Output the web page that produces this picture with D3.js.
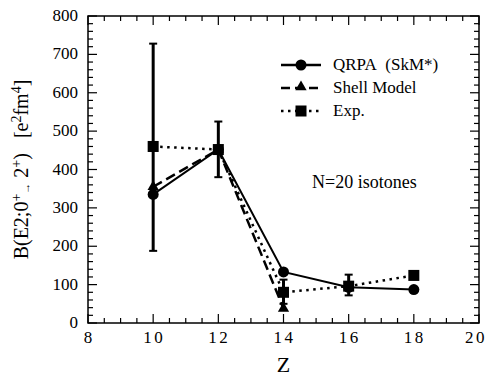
<!DOCTYPE html>
<html>
<head>
<meta charset="utf-8">
<script src="https://d3js.org/d3.v7.min.js"></script>
<style>
  body { margin: 0; background: #fff; }
</style>
</head>
<body>
<div id="chart"></div>
<script>
// data
const qrpaZ = [10, 12, 14, 16, 18];
const qrpaB = [335, 452, 133, 93, 87];

const shellZ = [10, 12, 14];
const shellB = [355, 452, 38];

const expZ = [10, 12, 14, 16, 18];
const expB = [460, 452, 80, 96, 124];
const expLo = [188, 380, 50, 72, null];
const expHi = [728, 525, 113, 126, null];

const xTicks = [8, 10, 12, 14, 16, 18, 20];
const yTicks = [0, 100, 200, 300, 400, 500, 600, 700, 800];

const w = 488, h = 380;
const m = {left: 88, right: 9, top: 16, bottom: 57};

const svg = d3.select("#chart").append("svg")
  .attr("width", w).attr("height", h)
  .attr("font-family", "'Liberation Serif', 'Times New Roman', Times, serif");

const x = d3.scaleLinear().domain([8, 20]).range([m.left, w - m.right]);
const y = d3.scaleLinear().domain([0, 800]).range([h - m.bottom, m.top]);

// ticks (inward, all four sides)
const minorX = d3.range(8, 20.01, 0.5);
const minorY = d3.range(0, 800.1, 20);
const tg = svg.append("g").attr("stroke", "#000").attr("stroke-width", 1.2);
minorX.forEach(v => {
  const len = (v % 2 === 0) ? 9 : 5;
  tg.append("line").attr("x1", x(v)).attr("x2", x(v)).attr("y1", y(0)).attr("y2", y(0) - len);
  tg.append("line").attr("x1", x(v)).attr("x2", x(v)).attr("y1", y(800)).attr("y2", y(800) + len);
});
minorY.forEach(v => {
  const len = (v % 100 === 0) ? 9 : 5;
  tg.append("line").attr("y1", y(v)).attr("y2", y(v)).attr("x1", x(8)).attr("x2", x(8) + len);
  tg.append("line").attr("y1", y(v)).attr("y2", y(v)).attr("x1", x(20)).attr("x2", x(20) - len);
});

svg.append("rect")
  .attr("x", x(8)).attr("y", y(800))
  .attr("width", x(20) - x(8)).attr("height", y(0) - y(800))
  .attr("fill", "none").attr("stroke", "#000").attr("stroke-width", 1.5);

// tick labels
svg.selectAll(".xl").data(xTicks).enter().append("text")
  .attr("x", d => x(d) + (d === 20 ? -3 : d >= 10 ? 1 : 0))
  .attr("y", y(0) + 20)
  .attr("text-anchor", "middle")
  .attr("font-size", 17)
  .attr("letter-spacing", d => d >= 10 ? 2.5 : 0)
  .text(d => d);

svg.selectAll(".yl").data(yTicks).enter().append("text")
  .attr("x", 78)
  .attr("y", d => y(d) + 5)
  .attr("text-anchor", "end")
  .attr("font-size", 17)
  .text(d => d);

// axis titles
svg.append("text")
  .attr("x", x(14)).attr("y", 372)
  .attr("text-anchor", "middle").attr("font-size", 22)
  .text("Z");

const yl = svg.append("text")
  .attr("transform", "translate(28," + y(400) + ") rotate(-90)")
  .attr("text-anchor", "middle").attr("font-size", 20);
yl.append("tspan").text("B(E2;0");
yl.append("tspan").attr("dy", -7).attr("font-size", 14).text("+");
yl.append("tspan").attr("dy", 9).attr("font-size", 11).text("\u2192");
yl.append("tspan").attr("dy", -2).text(" 2");
yl.append("tspan").attr("dy", -7).attr("font-size", 14).text("+");
yl.append("tspan").attr("dy", 7).text(")\u00a0\u00a0 [e");
yl.append("tspan").attr("dy", -7).attr("font-size", 14).text("2");
yl.append("tspan").attr("dy", 7).text("fm");
yl.append("tspan").attr("dy", -7).attr("font-size", 14).text("4");
yl.append("tspan").attr("dy", 7).text("]");

// error bars
const eb = svg.append("g").attr("stroke", "#000").attr("stroke-width", 3);
expZ.forEach((z, i) => {
  if (expLo[i] == null) return;
  eb.append("line").attr("x1", x(z)).attr("x2", x(z)).attr("y1", y(expLo[i])).attr("y2", y(expHi[i]));
  [expLo[i], expHi[i]].forEach(v => {
    eb.append("line").attr("x1", x(z) - 4).attr("x2", x(z) + 4).attr("y1", y(v)).attr("y2", y(v)).attr("stroke-width", 2);
  });
});

const line = d3.line().x(d => x(d[0])).y(d => y(d[1]));

svg.append("path").datum(expZ.map((z, i) => [z, expB[i]]))
  .attr("d", line).attr("fill", "none").attr("stroke", "#000")
  .attr("stroke-width", 2.5).attr("stroke-dasharray", "2.5,4.5");
svg.append("path").datum(shellZ.map((z, i) => [z, shellB[i]]))
  .attr("d", line).attr("fill", "none").attr("stroke", "#000")
  .attr("stroke-width", 2.5).attr("stroke-dasharray", "10,5");
svg.append("path").datum(qrpaZ.map((z, i) => [z, qrpaB[i]]))
  .attr("d", line).attr("fill", "none").attr("stroke", "#000")
  .attr("stroke-width", 2);

const tri = d3.symbol().type(d3.symbolTriangle).size(55);
svg.selectAll(".tri").data(shellZ).enter().append("path")
  .attr("d", tri)
  .attr("transform", (d, i) => "translate(" + x(d) + "," + y(shellB[i]) + ")");
svg.selectAll(".sq").data(expZ).enter().append("rect")
  .attr("x", d => x(d) - 5.5)
  .attr("y", (d, i) => y(expB[i]) - 5.5)
  .attr("width", 11).attr("height", 11);
svg.selectAll(".ci").data(qrpaZ).enter().append("circle")
  .attr("cx", d => x(d))
  .attr("cy", (d, i) => y(qrpaB[i]))
  .attr("r", 5.5);

// legend
const legend = [
  {label: "QRPA\u00a0 (SkM*)", dash: null, mark: "circle"},
  {label: "Shell Model", dash: "9,5", mark: "tri"},
  {label: "Exp.", dash: "2.5,4.5", mark: "sq"}
];
legend.forEach((d, i) => {
  const ly = 65 + i * 23;
  const g = svg.append("g");
  g.append("line").attr("x1", 281).attr("x2", 321).attr("y1", ly).attr("y2", ly)
    .attr("stroke", "#000").attr("stroke-width", 2.5)
    .attr("stroke-dasharray", d.dash);
  if (d.mark === "circle") g.append("circle").attr("cx", 301).attr("cy", ly).attr("r", 5.5);
  if (d.mark === "tri") g.append("path").attr("d", tri).attr("transform", "translate(301," + (ly - 1) + ")");
  if (d.mark === "sq") g.append("rect").attr("x", 295.5).attr("y", ly - 5.5).attr("width", 11).attr("height", 11);
  g.append("text").attr("x", 333).attr("y", ly + 5).attr("font-size", 17).text(d.label);
});

svg.append("text").attr("x", 312).attr("y", 188).attr("font-size", 18).text("N=20 isotones");
</script>
</body>
</html>
